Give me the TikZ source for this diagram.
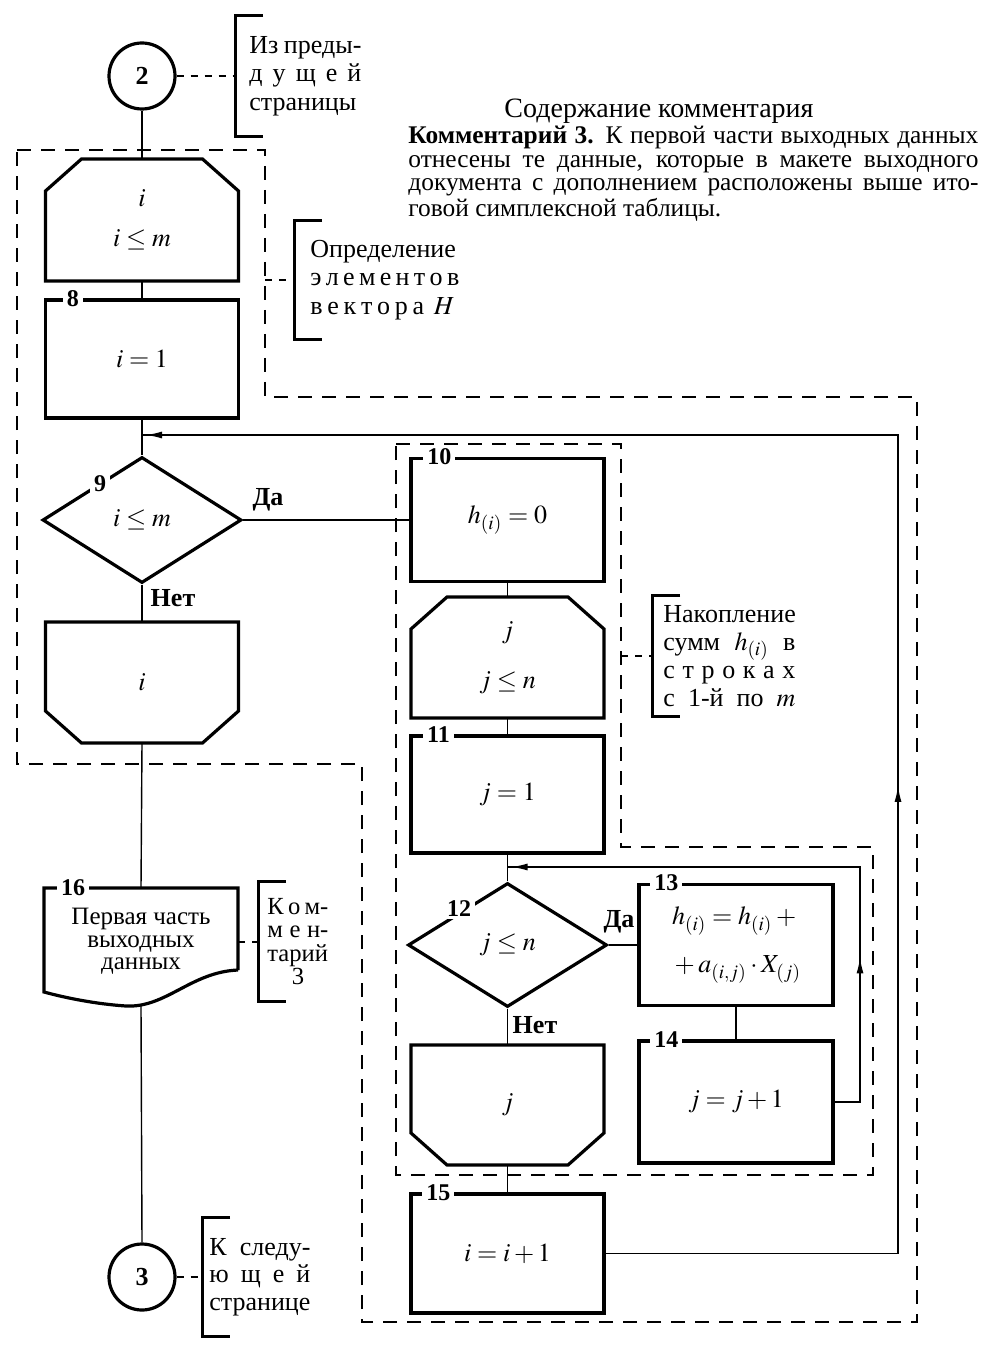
\documentclass[tikz,border=0pt]{standalone}
\usepackage{mathptmx}
\usepackage{fontspec}
\setmainfont{Liberation Serif}
\usetikzlibrary{shapes.geometric, arrows.meta, decorations.markings, calc}

\tikzset{
  block/.style={draw, line width=1.6pt, minimum width=96.5pt, inner sep=2pt,
    align=center, font=\fontsize{13}{15}\selectfont},
  limit/.style={block, draw=none, outer sep=0pt},
  cond/.style={diamond, draw, line width=1.6pt, minimum width=99.5pt,
    minimum height=63pt, inner sep=0pt, font=\fontsize{13}{15}\selectfont},
  conn/.style={circle, draw, line width=1.6pt, minimum size=33pt, inner sep=0pt,
    font=\bfseries\fontsize{13}{15}\selectfont},
  num/.style={fill=white, inner xsep=2pt, inner ysep=1pt,
    font=\bfseries\fontsize{12}{12}\selectfont},
  yesno/.style={inner sep=1pt, font=\bfseries\fontsize{13}{15}\selectfont},
  note/.style={anchor=west, inner ysep=0pt, align=left},
  bracket/.style={line width=1.5pt},
  flow/.style={line width=0.7pt},
  region/.style={line width=1pt, dash pattern=on 7pt off 5pt},
  remark/.style={line width=1pt, dash pattern=on 3.5pt off 3.5pt},
  back/.style={flow, postaction={decorate}, decoration={markings,
      mark=at position #1 with {\arrow{Latex[length=8pt,width=3.5pt]}},
      mark=at position -2pt with {\arrow{Latex[length=8pt,width=3.5pt]}}}}
}

% outlines of the loop limits, the document and the comment brackets
\newcommand{\limtop}[1]{\draw[line width=1.6pt] ([xshift=18pt]#1.north west)
  -- ([xshift=-18pt]#1.north east) -- ([yshift=-16pt]#1.north east)
  -- (#1.south east) -- (#1.south west) -- ([yshift=-16pt]#1.north west) -- cycle;}
\newcommand{\limbot}[1]{\draw[line width=1.6pt] (#1.north west) -- (#1.north east)
  -- ([yshift=16pt]#1.south east) -- ([xshift=-18pt]#1.south east)
  -- ([xshift=18pt]#1.south west) -- ([yshift=16pt]#1.south west) -- cycle;}
\newcommand{\docbox}[1]{\draw[line width=1.6pt] ([yshift=12.5pt]#1.south east)
  -- (#1.north east) -- (#1.north west) -- ([yshift=1.5pt]#1.south west)
  .. controls +(11pt,-3pt) and +(-15pt,1pt) .. ([xshift=-7.5pt,yshift=-5.5pt]#1.south)
  .. controls +(20pt,-1pt) and +(-23.5pt,-1pt) .. ([yshift=12.5pt]#1.south east);}
\newcommand{\notebracket}[1]{\draw[bracket] ([xshift=14pt]#1.north west)
  -- (#1.north west) -- (#1.south west) -- ([xshift=14pt]#1.south west);}

\begin{document}
\begin{tikzpicture}[x=0.5pt, y=-0.5pt]
  \useasboundingbox (0,0) rectangle (984,1347);

  % dashed regions
  \draw[region] (17,150) -- (265,150) -- (265,397) -- (917,397) -- (917,1322)
    -- (362,1322) -- (362,764) -- (17,764) -- cycle;
  \draw[region] (396,444) -- (621,444) -- (621,847) -- (873,847) -- (873,1175)
    -- (396,1175) -- cycle;

  % left column
  \node[conn] (c2) at (142,76) {2};
  \node[limit, minimum height=61pt, font=\fontsize{13}{20}\selectfont] (h7) at (142,220) {$i$\\$i\le m$};
  \node[block, minimum height=59pt] (b8) at (142,359) {$i=1$};
  \node[cond] (d9) at (142,520) {$i\le m$};
  \node[limit, minimum height=60.5pt] (h9) at (142,682.5) {$i$};
  \node[limit, minimum width=97pt, minimum height=53.5pt,
    font=\fontsize{12.5}{11.2}\selectfont] (d16) at (141,941.5) {Первая часть\\выходных\\данных};
  \node[conn] (c3) at (142,1277) {3};

  % right columns
  \node[block, minimum height=61.5pt] (b10) at (507.5,520) {$h_{(i)}=0$};
  \node[limit, minimum height=60.5pt, font=\fontsize{13}{25}\selectfont] (h10) at (507.5,657.5) {$j$\\$j\le n$};
  \node[block, minimum height=58.5pt] (b11) at (507.5,794.5) {$j=1$};
  \node[cond, minimum height=62pt] (d12) at (507.5,945) {$j\le n$};
  \node[limit, minimum height=60pt] (h12) at (507.5,1105) {$j$};
  \node[block, minimum height=59.5pt] (b15) at (507.5,1253.5) {$i=i+1$};
  \node[block, minimum width=97pt, minimum height=60.5pt,
    font=\fontsize{13}{24}\selectfont] (b13) at (736,945) {$h_{(i)}=h_{(i)}+{}$\\${}+a_{(i,j)}\cdot X_{(j)}$};
  \node[block, minimum width=97pt, minimum height=61pt] (b14) at (736,1102) {$j=j+1$};

  \limtop{h7}
  \limbot{h9}
  \limtop{h10}
  \limbot{h12}
  \docbox{d16}

  % block numbers
  \node[num] (l8)  at ([xshift=14.5pt]b8.north west)  {8};
  \node[num] (l9)  at (100,484) {9};
  \node[num] (l10) at ([xshift=15pt]b10.north west) {10};
  \node[num] (l11) at ([xshift=14.5pt]b11.north west) {11};
  \node[num] (l12) at (459,909) {12};
  \node[num] (l13) at ([xshift=14.5pt]b13.north west) {13};
  \node[num] (l14) at ([xshift=14.5pt]b14.north west) {14};
  \node[num] (l15) at ([xshift=14.5pt]b15.north west) {15};
  \node[num] (l16) at ([xshift=14.5pt]d16.north west) {16};

  \node[yesno] (y9)  at (268,500)  {Да};
  \node[yesno] (n9)  at (173,598)  {Нет};
  \node[yesno] (y12) at (619,922)  {Да};
  \node[yesno] (n12) at (535,1025) {Нет};

  % connectors
  \coordinate (d16b) at ([yshift=-5.5pt]d16.south);
  \draw[flow] (c2.south) -- (h7.north);
  \draw[flow] (h7.south) -- (b8.north);
  \draw[flow] (b8.south) -- (d9.north);
  \draw[flow] (d9.east) -- (b10.west);
  \draw[flow] (d9.south) -- (h9.north);
  \draw[flow] (h9.south) -- (d16.north);
  \draw[flow] (d16b) -- (c3.north);
  \draw[flow] (b10.south) -- (h10.north);
  \draw[flow] (h10.south) -- (b11.north);
  \draw[flow] (b11.south) -- (d12.north);
  \draw[flow] (d12.east) -- (b13.west);
  \draw[flow] (b13.south) -- (b14.north);
  \draw[flow] (d12.south) -- (h12.north);
  \draw[flow] (h12.south) -- (b15.north);

  \coordinate (fb2) at (507.5,867);
  \coordinate (fbr2) at (860,867);
  \draw[back=85pt] (b14.east) -| (fbr2) -- (fb2);
  \coordinate (fb1) at (142,435);
  \coordinate (fbr1) at (898,435);
  \draw[back=380pt] (b15.east) -| (fbr1) -- (fb1);

  % comments
  \node[note, minimum height=60.5pt, inner xsep=7pt, font=\fontsize{13}{14.25}\selectfont]
    (note1) at (235,76) {\makebox[56pt][s]{Из преды-}\\\makebox[56pt][s]{д у щ е й}\\\makebox[56pt][s]{страницы}};
  \node[note, minimum height=59.5pt, inner xsep=8pt, font=\fontsize{13}{14.25}\selectfont]
    (note2) at (294,280) {\makebox[72pt][s]{Определение}\\\makebox[72pt][s]{э л е м е н т о в}\\\makebox[72pt][s]{в е к т о р а\ \ $H$}};
  \node[note, minimum height=60pt, inner xsep=5.5pt, font=\fontsize{13}{13.9}\selectfont]
    (note3) at (652,656) {\makebox[66pt][s]{Накопление}\\\makebox[66pt][s]{сумм $h_{(i)}$ в}\\\makebox[66pt][s]{с т р о к а х}\\\makebox[66pt][s]{с 1-й по $m$}};
  \node[note, minimum height=59.5pt, inner xsep=4.5pt, font=\fontsize{12.3}{11.7}\selectfont]
    (note4) at (258,941.5) {\makebox[30.5pt][s]{К о м-}\\\makebox[30.5pt][s]{м е н-}\\\makebox[30.5pt][s]{тарий}\\\makebox[30.5pt][c]{3}};
  \node[note, minimum height=59pt, inner xsep=3.5pt, font=\fontsize{13}{13.75}\selectfont]
    (note5) at (202,1277) {\makebox[50.5pt][s]{К\ \ следу-}\\\makebox[50.5pt][s]{ю щ е й}\\\makebox[50.5pt][s]{странице}};
  \notebracket{note1}
  \notebracket{note2}
  \notebracket{note3}
  \notebracket{note4}
  \notebracket{note5}

  \coordinate (r2) at (265,280);
  \coordinate (r3) at (621,656);
  \draw[remark] (c2.east) -- (note1.west);
  \draw[remark] (r2) -- (note2.west);
  \draw[remark] (r3) -- (note3.west);
  \draw[remark] (d16.east) -- (note4.west);
  \draw[remark] (c3.east) -- (note5.west);

  \node[font=\fontsize{14}{14}\selectfont] (title) at (659,111) {Содержание комментария};
  \node[anchor=north west, inner sep=0pt, align=left, font=\fontsize{12.7}{11.75}\selectfont] (text3) at (408,126)
    {\makebox[285pt][s]{\textbf{Комментарий 3.} К первой части выходных данных}\\
     \makebox[285pt][s]{отнесены те данные, которые в макете выходного}\\
     \makebox[285pt][s]{документа с дополнением расположены выше ито-}\\
     говой симплексной таблицы.};
\end{tikzpicture}
\end{document}
